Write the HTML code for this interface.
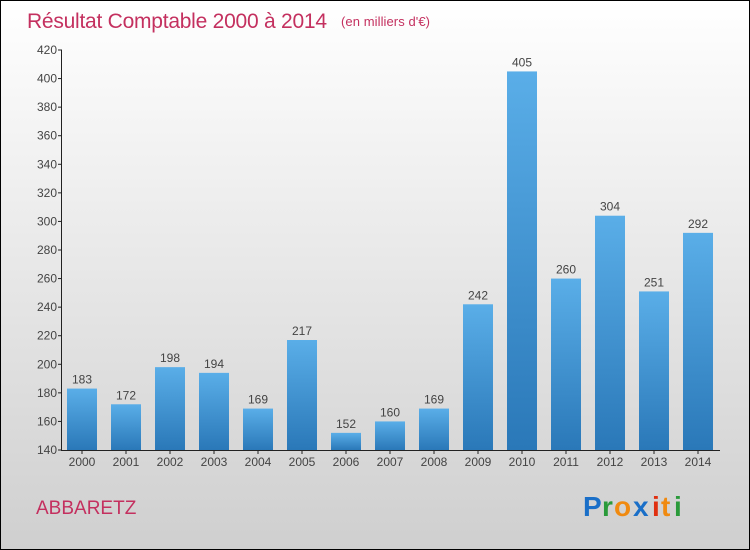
<!DOCTYPE html>
<html><head><meta charset="utf-8"><style>
body{margin:0}
#c{width:750px;height:550px;position:relative;box-sizing:border-box;border:1px solid #000;background:linear-gradient(#ffffff,#cfcfcf);font-family:"Liberation Sans",sans-serif;overflow:hidden}
</style></head><body>
<div id="c">
<svg width="750" height="550" style="position:absolute;left:-1px;top:-1px">
<defs><linearGradient id="bg" x1="0" y1="0" x2="0" y2="1"><stop offset="0" stop-color="#5aaee8"/><stop offset="1" stop-color="#2a78b8"/></linearGradient></defs>
<text x="27" y="28" font-size="21" fill="#c4305f" textLength="300">Résultat Comptable 2000 à 2014</text>
<text x="341" y="26" font-size="13" fill="#c4305f" textLength="89">(en milliers d'€)</text>
<text x="36" y="514" font-size="19" fill="#c4305f">ABBARETZ</text>
<g font-size="28" font-weight="bold">
<text x="583" y="516" fill="#1a6fc8">P</text><text x="602" y="516" fill="#2a9a3a">r</text><text x="614" y="516" fill="#f08a10">o</text><text x="633" y="516" fill="#1a6fc8">x</text><text x="652" y="516" fill="#e03010">i</text><text x="661" y="516" fill="#f08a10">t</text><text x="674" y="516" fill="#2a9a3a">i</text></g>
<g id="plot"></g>
</svg>
</div>
<script>
const years=["2000","2001","2002","2003","2004","2005","2006","2007","2008","2009","2010","2011","2012","2013","2014"];
const values=[183,172,198,194,169,217,152,160,169,242,405,260,304,251,292];
const yTicks=[140,160,180,200,220,240,260,280,300,320,340,360,380,400,420];
const y=v=>450-(v-140)*400/280;
const x=i=>82+i*44;
const g=document.getElementById('plot');
const NS='http://www.w3.org/2000/svg';
function mk(t,a,txt){const e=document.createElementNS(NS,t);for(const k in a)e.setAttribute(k,a[k]);if(txt!==undefined)e.textContent=txt;g.appendChild(e);return e;}
values.forEach((v,i)=>{
const b=mk('rect',{x:x(i)-15,y:y(v),width:30,height:450-y(v),fill:'url(#bg)'});


const t=mk('text',{x:x(i),y:y(v)-5,'text-anchor':'middle','font-size':12,fill:'#444'},v);


const xl=mk('text',{x:x(i),y:466,'text-anchor':'middle','font-size':12,fill:'#444'},years[i]);


mk('line',{x1:x(i),x2:x(i),y1:450,y2:454,stroke:'#222'});
});
yTicks.forEach(v=>{
mk('line',{x1:58,x2:62,y1:y(v),y2:y(v),stroke:'#222'});
const t=mk('text',{x:57,y:y(v)+4,'text-anchor':'end','font-size':12,fill:'#444'},v);


});
const ya=mk('line',{x1:61.5,x2:61.5,y1:50,y2:450,stroke:'#222'});


const xa=mk('line',{x1:61,x2:720,y1:450.5,y2:450.5,stroke:'#222'});


</script>
</body></html>
